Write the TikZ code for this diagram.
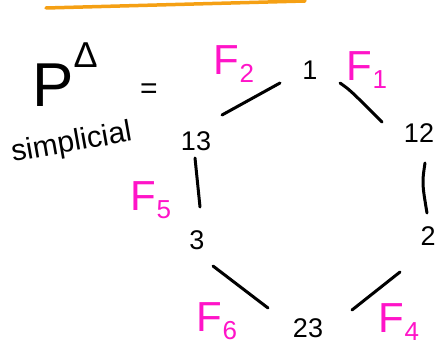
\documentclass[tikz,border=0pt]{standalone}
\usepackage{fontspec}
\setmainfont{Liberation Sans}
\usetikzlibrary{calc}
\definecolor{hlmag}{RGB}{255,20,200}
\definecolor{hlorange}{RGB}{245,160,20}
\tikzset{
  vtx/.style={inner sep=0pt, font=\fontsize{27}{27}\selectfont},
  facelbl/.style={inner sep=0pt, text=hlmag, font=\fontsize{42}{42}\selectfont},
  edge/.style={line width=3pt, line cap=round},
  plain/.style={inner sep=0pt}
}
\newcommand{\facesub}[1]{\raisebox{-0.18em}{\fontsize{26}{26}\selectfont #1}}
\begin{document}
\begin{tikzpicture}[x=1pt,y=-1pt]
\useasboundingbox (0,0) rectangle (435,350);
\fill[white] (0,0) rectangle (435,350);
% orange highlight line at top
\coordinate (hl1) at (46,8);
\coordinate (hl2) at (305,1);
\draw[hlorange, line width=3.5pt, line cap=round] (hl1) -- (hl2);
% left text
\node[plain, anchor=base west, font=\fontsize{62}{62}\selectfont] (P) at (32,106) {P\raisebox{0.62em}{\fontsize{36}{36}\selectfont Δ}};
\node[plain, font=\fontsize{30}{30}\selectfont] (eq) at (149,91) {=};
\node[plain, rotate=10, anchor=base west, font=\fontsize{30}{30}\selectfont] (simp) at (13,162) {simplicial};
% vertices
\node[vtx] (v1) at (310,70) {1};
\node[vtx] (v12) at (419,133) {12};
\node[vtx] (v2) at (428,236) {2};
\node[vtx] (v23) at (308,328) {23};
\node[vtx] (v3) at (197,240) {3};
\node[vtx] (v13) at (196,141) {13};
% edges
\draw[edge] ($(v13)+(26,-26)$) -- ($(v1)+(-30,13)$);
\draw[edge] ($(v1)+(30,13)$) .. controls ($(v1)+(40,20)$) .. ($(v12)+(-37,-11)$);
\draw[edge] ($(v13)+(-1,17)$) -- ($(v3)+(3,-33)$);
\draw[edge] ($(v12)+(6,30)$) .. controls ($(v12)+(3,50)$) .. ($(v2)+(-1,-23)$);
\draw[edge] ($(v3)+(16,26)$) -- ($(v23)+(-40,-20)$);
\draw[edge] ($(v2)+(-28,36)$) -- ($(v23)+(44,-18)$);
% face labels
\node[facelbl] (F2) at (234,64) {F\facesub{2}};
\node[facelbl] (F1) at (367,70) {F\facesub{1}};
\node[facelbl] (F5) at (151,200) {F\facesub{5}};
\node[facelbl] (F6) at (217,321) {F\facesub{6}};
\node[facelbl] (F4) at (399,322) {F\facesub{4}};
\end{tikzpicture}
\end{document}
